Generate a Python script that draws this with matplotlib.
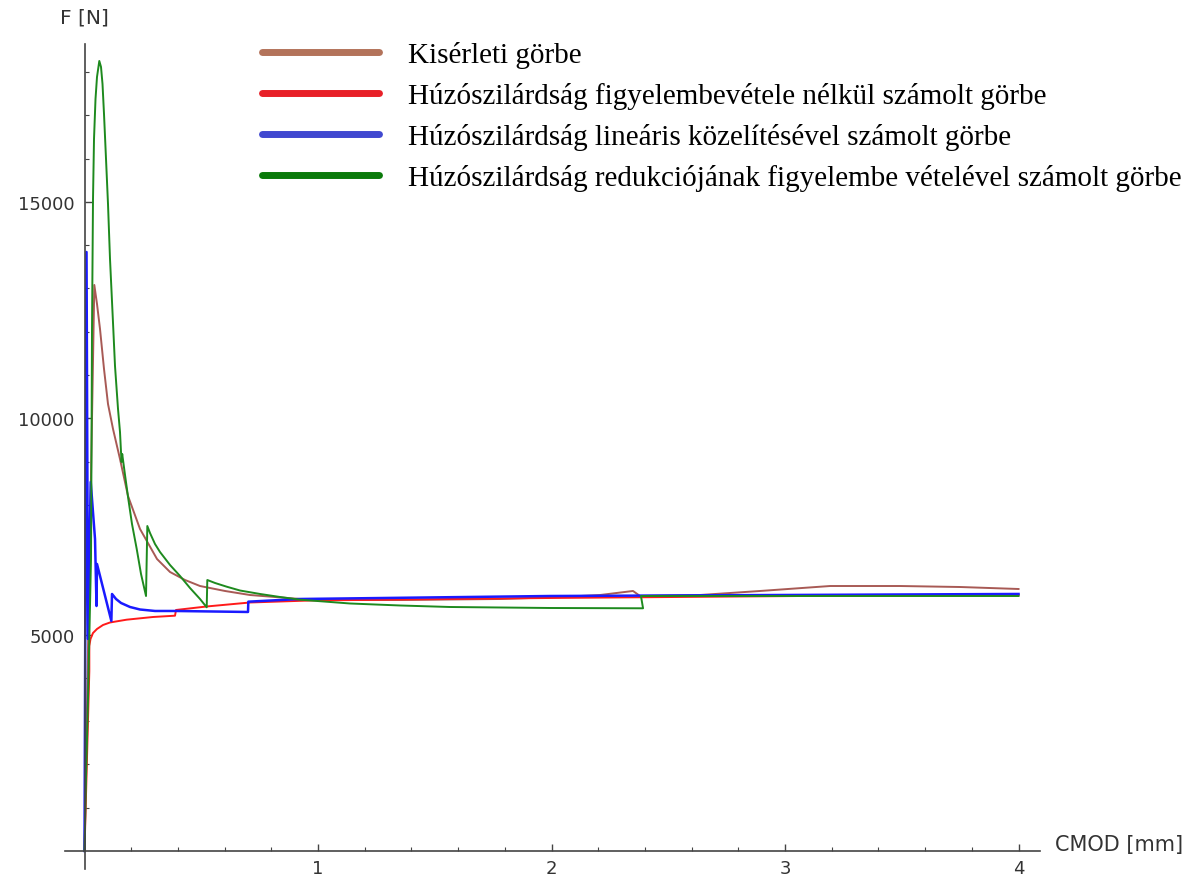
import matplotlib.pyplot as plt
from matplotlib.lines import Line2D
from matplotlib.ticker import FixedLocator

# CMOD [mm] / F [N] values
kiserleti_x = [0, 0.042, 0.0535, 0.0664, 0.0835, 0.1006, 0.1221, 0.152, 0.1863, 0.2377,
	0.3105, 0.3662, 0.4304, 0.4947, 0.6017, 0.7088, 0.8158, 0.9229, 1.137, 1.351, 1.780,
	2.036, 2.208, 2.349, 2.379, 2.636, 2.893, 3.193, 3.493, 3.750, 4.0]
kiserleti_F = [0, 13081, 12642, 12064, 11140, 10331, 9753, 9059, 8204, 7442,
	6748, 6448, 6263, 6124, 6009, 5916, 5870, 5824, 5801, 5801, 5824,
	5870, 5916, 6009, 5893, 5916, 6009, 6124, 6124, 6101, 6055]

nelkul_x = [0, 0.0206, 0.0206, 0.0257, 0.0364, 0.0535, 0.0792, 0.1092, 0.1807, 0.2934,
	0.3876, 0.3919, 0.5233, 0.7088, 0.9657, 1.351, 1.99, 3.064, 4.0]
nelkul_F = [0, 4160, 4738, 4900, 5038, 5131, 5223, 5281, 5346, 5408,
	5438, 5570, 5651, 5743, 5789, 5812, 5847, 5893, 5916]

linearis_x = [0, 0.0086, 0.015, 0.0266, 0.045, 0.0514, 0.0535, 0.115, 0.1178, 0.1349,
	0.1563, 0.1949, 0.2377, 0.302, 0.3876, 0.7002, 0.7015, 0.9229, 1.9936, 4.0]
linearis_F = [0, 13843, 4900, 8528, 7211, 5662, 6633, 5315, 5940, 5824,
	5732, 5639, 5581, 5547, 5547, 5524, 5762, 5824, 5893, 5940]

redukcio_x = [0, 0.0064, 0.0150, 0.0214, 0.0278, 0.0300, 0.0321, 0.0364, 0.0407, 0.0471,
	0.0535, 0.0634, 0.0707, 0.0771, 0.0835, 0.0921, 0.1006, 0.1092, 0.1233, 0.1306,
	0.1435, 0.1520, 0.1585, 0.1615, 0.1735, 0.1876, 0.2034, 0.2236, 0.2420, 0.2634,
	0.2690, 0.2805, 0.3019, 0.3233, 0.3662, 0.4090, 0.4518, 0.4947, 0.5233, 0.5259,
	0.5589, 0.6090, 0.6660, 0.7516, 0.8373, 0.9229, 1.137, 1.351, 1.565, 1.994,
	2.392, 2.383, 4.0]
redukcio_F = [0, 1664, 3513, 5131, 6748, 9291, 12064, 15068, 16455, 17379,
	17888, 18258, 18119, 17726, 17033, 15993, 14953, 13682, 12064, 11209,
	10215, 9684, 8990, 9175, 8690, 8135, 7557, 6980, 6402, 5893,
	7511, 7349, 7095, 6910, 6610, 6356, 6078, 5824, 5632, 6263,
	6194, 6108, 6020, 5940, 5870, 5808, 5720, 5674, 5639, 5616,
	5609, 5893, 5893]

labels = ["Kisérleti görbe",
	"Húzószilárdság figyelembevétele nélkül számolt görbe",
	"Húzószilárdság lineáris közelítésével számolt görbe",
	"Húzószilárdság redukciójának figyelembe vételével számolt görbe"]

x_major = [1, 2, 3, 4]
x_minor = [0.2, 0.4, 0.6, 0.8, 1.2, 1.4, 1.6, 1.8, 2.2, 2.4, 2.6, 2.8, 3.2, 3.4, 3.6, 3.8]
y_major = [5000, 10000, 15000]
y_minor = [1000, 2000, 3000, 4000, 6000, 7000, 8000, 9000, 11000, 12000, 13000, 14000,
	16000, 17000, 18000]


def plotCurves():
	fig = plt.figure(figsize=(11.96, 8.79), dpi=100)
	ax = fig.add_axes([0, 0, 1, 1])

	ax.plot(kiserleti_x, kiserleti_F, color='#a85a55', lw=1.4)
	ax.plot(nelkul_x, nelkul_F, color='#ff1a1a', lw=1.4)
	ax.plot(linearis_x, linearis_F, color='#1a1aff', lw=1.8)
	ax.plot(redukcio_x, redukcio_F, color='#1e8a1e', lw=1.4)

	ax.set_xlim(-0.3619, 4.760)
	ax.set_ylim(-624, 19690)

	# axes crossing at the origin, sage style
	for s in ['top', 'right']:
		ax.spines[s].set_visible(False)
	ax.spines['left'].set_position(('data', 0))
	ax.spines['bottom'].set_position(('data', 0))
	ax.spines['left'].set_bounds(-420, 18650)
	ax.spines['bottom'].set_bounds(-0.083, 4.09)
	for s in ['left', 'bottom']:
		ax.spines[s].set_color('#444444')
		ax.spines[s].set_linewidth(1.2)

	ax.set_xticks(x_major)
	ax.set_yticks(y_major)
	ax.xaxis.set_minor_locator(FixedLocator(x_minor))
	ax.yaxis.set_minor_locator(FixedLocator(y_minor))
	ax.tick_params(which='both', direction='in', colors='#444444', labelcolor='#333333', labelsize=13)
	ax.tick_params(which='major', length=5, width=1)
	ax.tick_params(which='minor', length=3, width=0.8)
	ax.tick_params(axis='y', pad=7)
	ax.tick_params(axis='x', pad=6)

	fig.text(84 / 1196, 1 - 18 / 879, "F [N]", ha='center', va='center', fontsize=14.5, color='#333333')
	fig.text(1055 / 1196, 1 - 845 / 879, "CMOD [mm]", ha='left', va='center', fontsize=15, color='#333333')

	handles = [Line2D([], [], color='#b3735a', lw=5, solid_capstyle='round'),
		Line2D([], [], color='#e82028', lw=5, solid_capstyle='round'),
		Line2D([], [], color='#4048d0', lw=5, solid_capstyle='round'),
		Line2D([], [], color='#0a7a0a', lw=5, solid_capstyle='round')]
	fig.legend(handles, labels, loc='upper left', bbox_to_anchor=(262 / 1196, 1 - 42 / 879),
		frameon=False, borderpad=0, borderaxespad=0, handlelength=4.0, handletextpad=1.02,
		labelspacing=0.48, prop={'family': 'Liberation Serif', 'size': 21})

	fig.savefig('out.png', dpi=100)


if __name__ == "__main__":
	plotCurves()
